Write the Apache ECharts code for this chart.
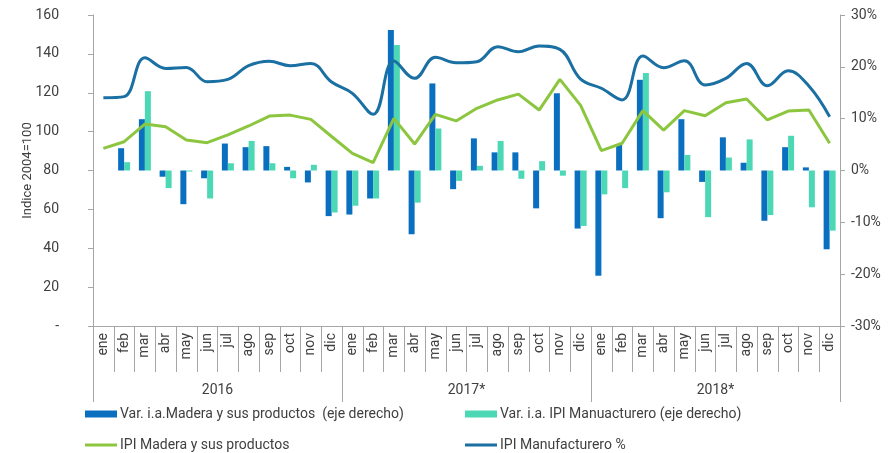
<!DOCTYPE html>
<html>
<head>
<meta charset="utf-8">
<script src="https://cdn.jsdelivr.net/npm/echarts@6/dist/echarts.min.js"></script>
<style>
  html, body { margin: 0; padding: 0; background: #fff; }
  #chart { width: 891px; height: 453px; }
</style>
</head>
<body>
<div id="chart"></div>
<script>
const months = ['ene', 'feb', 'mar', 'abr', 'may', 'jun', 'jul', 'ago', 'sep', 'oct', 'nov', 'dic']
const categories = [].concat(months, months, months)
const years = ['2016', '2017*', '2018*']

// variaciones interanuales (%), eje derecho
const varMadera = [
  null, 4.3, 9.9, -1.2, -6.5, -1.5, 5.2, 4.5, 4.7, 0.7, -2.3, -8.8,
  -8.5, -5.4, 27.1, -12.3, 16.8, -3.6, 6.2, 3.5, 3.5, -7.3, 14.9, -11.2,
  -20.3, 5.1, 17.5, -9.2, 9.9, -2.2, 6.4, 1.5, -9.7, 4.5, 0.6, -15.2
]
const varManufacturero = [
  null, 1.6, 15.3, -3.4, -0.2, -5.4, 1.4, 5.7, 1.4, -1.5, 1.1, -8.1,
  -6.8, -5.4, 24.2, -6.2, 8.1, -2.0, 0.9, 5.7, -1.6, 1.8, -1.0, -10.7,
  -4.6, -3.4, 18.8, -4.2, 3.0, -9.0, 2.5, 6.0, -8.6, 6.7, -7.1, -11.6
]

// indices 2004=100, eje izquierdo
const ipiMadera = [
  91.4, 94.8, 103.9, 102.5, 95.7, 94.3, 98.3, 102.9, 108.0, 108.5, 106.3, 97.5,
  88.8, 84.0, 106.8, 93.6, 108.9, 105.5, 112.0, 116.3, 119.3, 111.1, 126.9, 113.5,
  90.2, 94.0, 110.8, 100.8, 110.8, 108.2, 114.9, 116.8, 106.0, 110.6, 111.1, 94.0
]
const ipiManufacturero = [
  117.4, 118.0, 138.0, 132.5, 133.0, 125.7, 126.9, 133.9, 136.2, 133.9, 135.1, 125.5,
  119.7, 108.9, 136.3, 127.4, 138.2, 135.4, 136.0, 143.7, 141.1, 144.0, 142.3, 127.0,
  122.3, 116.3, 138.9, 132.9, 136.5, 124.0, 127.4, 135.1, 123.6, 131.3, 123.5, 107.7
]

const names = [
  'Var. i.a.Madera y sus productos  (eje derecho)',
  'Var. i.a. IPI Manuacturero (eje derecho)',
  'IPI Madera y sus productos',
  'IPI Manufacturero %'
]
const colors = ['#0B6FC0', '#4DD8B5', '#8CC63F', '#1A6FA3']

const textColor = '#404040'
const axisGray = '#A6A6A6'
const font = 'Roboto, "Liberation Sans", sans-serif'

const chart = echarts.init(document.getElementById('chart'))

function legendAt(name, left, top, h) {
  return {
    data: [{ name: name, icon: 'rect' }],
    left: left,
    top: top,
    itemWidth: 32,
    itemHeight: h,
    itemGap: 0,
    selectedMode: false,
    textStyle: { color: textColor, fontSize: 14, fontFamily: font, padding: [0, 0, 0, -2] }
  }
}

chart.setOption({
  animation: false,
  backgroundColor: '#fff',
  textStyle: { fontFamily: font },
  grid: { left: 93, right: 51, top: 15, bottom: 127 },
  legend: [
    legendAt(names[0], 80, 402, 7),
    legendAt(names[1], 460, 402, 7),
    legendAt(names[2], 80, 433, 3),
    legendAt(names[3], 460, 433, 3)
  ],
  xAxis: [
    {
      type: 'category',
      data: categories,
      position: 'bottom',
      axisLine: { onZero: false, lineStyle: { color: axisGray } },
      axisTick: { show: true, interval: 0, length: 46, lineStyle: { color: axisGray } },
      axisLabel: {
        interval: 0,
        rotate: 90,
        margin: 7,
        color: textColor,
        fontSize: 14,
        fontFamily: font
      }
    },
    {
      type: 'category',
      data: years,
      position: 'bottom',
      axisLine: { show: false, onZero: false },
      axisTick: { show: true, interval: 0, length: 76, lineStyle: { color: axisGray } },
      axisLabel: { margin: 57, color: textColor, fontSize: 14, fontFamily: font }
    }
  ],
  yAxis: [
    {
      type: 'value',
      min: 0,
      max: 160,
      interval: 20,
      name: 'Indice 2004=100',
      nameLocation: 'middle',
      nameRotate: 90,
      nameGap: 59,
      nameMoveOverlap: false,
      nameTextStyle: { color: textColor, fontSize: 13, fontFamily: font },
      axisLine: { show: true, lineStyle: { color: axisGray } },
      axisTick: { show: true, length: 5, lineStyle: { color: axisGray } },
      splitLine: { show: false },
      axisLabel: {
        margin: 34,
        color: textColor,
        fontSize: 14,
        fontFamily: font,
        formatter: v => (v === 0 ? '-' : v)
      }
    },
    {
      type: 'value',
      min: -30,
      max: 30,
      interval: 10,
      position: 'right',
      axisLine: { show: true, lineStyle: { color: axisGray } },
      axisTick: { show: true, length: 5, lineStyle: { color: axisGray } },
      splitLine: { show: false },
      axisLabel: {
        margin: 11,
        color: textColor,
        fontSize: 14,
        fontFamily: font,
        formatter: '{value}%'
      }
    }
  ],
  series: [
    {
      name: names[0],
      type: 'bar',
      yAxisIndex: 1,
      barWidth: 6,
      barGap: '0%',
      itemStyle: { color: colors[0] },
      data: varMadera
    },
    {
      name: names[1],
      type: 'bar',
      yAxisIndex: 1,
      barWidth: 6,
      barGap: '0%',
      itemStyle: { color: colors[1] },
      data: varManufacturero
    },
    {
      name: names[2],
      type: 'line',
      yAxisIndex: 0,
      symbol: 'none',
      lineStyle: { color: colors[2], width: 3 },
      itemStyle: { color: colors[2] },
      data: ipiMadera
    },
    {
      name: names[3],
      type: 'line',
      yAxisIndex: 0,
      symbol: 'none',
      smooth: 0.4,
      lineStyle: { color: colors[3], width: 3 },
      itemStyle: { color: colors[3] },
      data: ipiManufacturero
    }
  ]
})
</script>
</body>
</html>
